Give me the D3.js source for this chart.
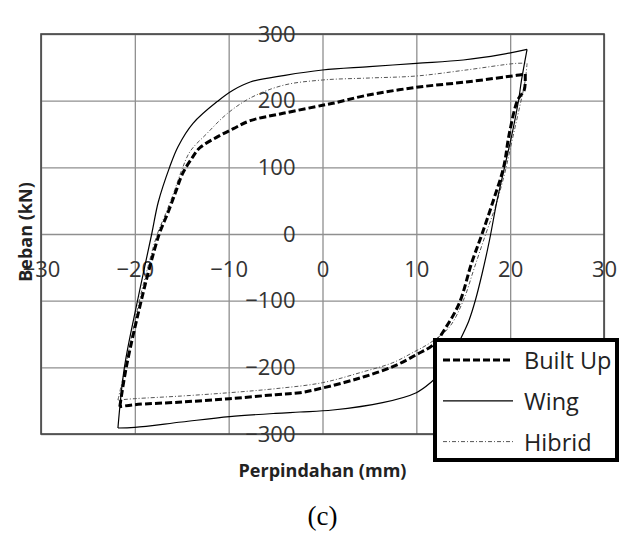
<!DOCTYPE html>
<html>
<head>
<meta charset="utf-8">
<script src="https://cdn.jsdelivr.net/npm/d3@7"></script>
<style>
  body { margin: 0; background: #fff; }
  text { font-family: "Open Sans", sans-serif; }
</style>
</head>
<body>
<svg id="chart" width="636" height="539"></svg>
<script>
// tick values
const xTicks = [-30, -20, -10, 0, 10, 20, 30];
const yTicks = [-300, -200, -100, 0, 100, 200, 300];

// series (displacement mm, load kN)
const builtUpX = [-21.6, -20.9, -19.3, -18.4, -17.4, -16.5, -15.7, -14.9, -13.9, -13.1, -11.3, -9.5, -7.7, -4.2, 0, 1.1, 4.7, 10, 15.3, 20.7, 21.6,
  21.5, 20.8, 19.9, 19.3, 18.2, 17.0, 15.9, 14.6, 13.2, 11.8, 10, 7.5, 4, 0, -2.4, -5, -9.9, -15, -20, -21.6];
const builtUpY = [-259, -199, -99, -49, 0, 31, 61, 91, 114, 129, 145, 158, 170, 181, 193, 196, 208, 220, 228, 238, 240,
  216, 201, 150, 100, 50, 0, -43, -103, -139, -166, -181, -199, -216, -231, -238, -241, -247, -252, -256, -259];

const wingX = [-21.8, -21.1, -19.7, -18.2, -17.5, -16.3, -15.4, -13.8, -11.1, -9.5, -7.7, -4, 0, 5, 10, 15, 19, 21.8,
  21.2, 20.9, 20.2, 19.4, 18.6, 17.8, 17.0, 16.3, 15.6, 14.8, 13.8, 12.6, 11.6, 10, 6.4, 1.1, -2.4, -5, -9.9, -15, -20, -21.8];
const wingY = [-291, -199, -99, 0, 48, 100, 131, 166, 200, 216, 228, 238, 246, 251, 256, 261, 269, 277,
  230, 201, 150, 100, 50, -9, -60, -99, -130, -155, -185, -208, -222, -238, -253, -264, -267, -269, -274, -282, -290, -291];

const hibridX = [-21.8, -21.0, -19.5, -18.6, -17.6, -16.7, -15.8, -15.0, -14.1, -12.3, -10.2, -7.7, -4.2, 0, 5, 10, 15.3, 20.7, 21.8,
  21.6, 21.0, 20.2, 19.4, 18.4, 17.4, 16.2, 15.0, 13.5, 11.5, 9.6, 7.5, 4, 0, -5, -9.9, -15, -20, -21.8];
const hibridY = [-249, -199, -99, -49, 0, 31, 64, 96, 124, 151, 180, 204, 223, 231, 234, 237, 246, 256, 256,
  230, 190, 140, 90, 40, 0, -50, -100, -140, -163, -178, -193, -208, -223, -232, -238, -243, -247, -249];

const seriesNames = ["Built Up", "Wing", "Hibrid"];

const plotLeft = 41, plotRight = 604, plotTop = 34, plotBottom = 434;

const svg = d3.select("#chart");

const x = d3.scaleLinear().domain([-30, 30]).range([plotLeft, plotRight]);
const y = d3.scaleLinear().domain([-300, 300]).range([plotBottom, plotTop]);

// gridlines
svg.append("g")
  .attr("transform", "translate(0," + plotBottom + ")")
  .call(d3.axisBottom(x).tickValues(xTicks).tickSize(-(plotBottom - plotTop)).tickFormat(""))
  .call(g => g.select(".domain").remove())
  .selectAll("line").attr("stroke", "#8f8f8f").attr("stroke-width", 1.3);

svg.append("g")
  .attr("transform", "translate(" + plotLeft + ",0)")
  .call(d3.axisLeft(y).tickValues(yTicks).tickSize(-(plotRight - plotLeft)).tickFormat(""))
  .call(g => g.select(".domain").remove())
  .selectAll("line").attr("stroke", "#8f8f8f").attr("stroke-width", 1.3);

// plot frame
svg.append("rect")
  .attr("x", plotLeft).attr("y", plotTop)
  .attr("width", plotRight - plotLeft).attr("height", plotBottom - plotTop)
  .attr("fill", "none").attr("stroke", "#444").attr("stroke-width", 1.6);

// tick labels along the zero lines
const xAxis = svg.append("g")
  .attr("transform", "translate(0," + y(0) + ")")
  .call(d3.axisBottom(x).tickValues(xTicks).tickSize(0).tickPadding(27));
xAxis.select(".domain").remove();
xAxis.selectAll("text")
  .attr("font-family", "Open Sans").attr("font-size", 22).attr("fill", "#333");

const yAxis = svg.append("g")
  .attr("transform", "translate(" + x(0) + ",0)")
  .call(d3.axisLeft(y).tickValues(yTicks).tickSize(0).tickPadding(27));
yAxis.select(".domain").remove();
yAxis.selectAll("text")
  .attr("font-family", "Open Sans").attr("font-size", 22).attr("fill", "#333");

// axis titles
svg.append("text")
  .attr("x", x(0)).attr("y", 470)
  .attr("text-anchor", "middle").attr("dominant-baseline", "central")
  .attr("font-weight", "bold").attr("font-size", 18).attr("fill", "#222")
  .text("Perpindahan (mm)");

svg.append("text")
  .attr("transform", "translate(25," + 232 + ") rotate(-90)")
  .attr("text-anchor", "middle").attr("dominant-baseline", "central")
  .attr("font-weight", "bold").attr("font-size", 18).attr("fill", "#222")
  .text("Beban (kN)");

svg.append("text")
  .attr("x", x(0)).attr("y", 516)
  .attr("text-anchor", "middle").attr("dominant-baseline", "central")
  .style("font-family", "'Liberation Serif', serif").attr("font-size", 27).attr("fill", "#000")
  .text("(c)");

// curves
const styles = {
  "Built Up": {stroke: "#000", width: 3, dash: "7,3"},
  "Wing": {stroke: "#000", width: 1.2, dash: null},
  "Hibrid": {stroke: "#555", width: 1, dash: "4,2,1,2"}
};
const seriesData = {
  "Built Up": builtUpX.map((v, i) => [v, builtUpY[i]]),
  "Wing": wingX.map((v, i) => [v, wingY[i]]),
  "Hibrid": hibridX.map((v, i) => [v, hibridY[i]])
};

const line = d3.line()
  .x(d => x(d[0]))
  .y(d => y(d[1]))
  .curve(d3.curveCatmullRom.alpha(0.5));

// each loop is drawn as two branches split at the right-hand corner, so corners stay sharp
["Hibrid", "Wing", "Built Up"].forEach(name => {
  const pts = seriesData[name];
  const iMax = d3.maxIndex(pts, d => d[0]);
  [pts.slice(0, iMax + 1), pts.slice(iMax)].forEach(branch => {
    svg.append("path")
      .datum(branch)
      .attr("fill", "none")
      .attr("stroke", styles[name].stroke)
      .attr("stroke-width", styles[name].width)
      .attr("stroke-dasharray", styles[name].dash)
      .attr("stroke-linejoin", "miter")
      .attr("d", line);
  });
});

// legend
const legend = svg.append("g").attr("transform", "translate(435,340)");
legend.append("rect")
  .attr("width", 182).attr("height", 120)
  .attr("fill", "#fff").attr("stroke", "#000").attr("stroke-width", 4);

seriesNames.forEach((name, i) => {
  const ly = 20 + i * 40.8;
  legend.append("line")
    .attr("x1", 8).attr("x2", 78).attr("y1", ly).attr("y2", ly)
    .attr("stroke", styles[name].stroke)
    .attr("stroke-width", name === "Built Up" ? 3 : styles[name].width)
    .attr("stroke-dasharray", styles[name].dash);
  legend.append("text")
    .attr("x", 89).attr("y", ly)
    .attr("dominant-baseline", "central")
    .attr("font-size", 23.5).attr("fill", "#222")
    .text(name);
});
</script>
</body>
</html>
